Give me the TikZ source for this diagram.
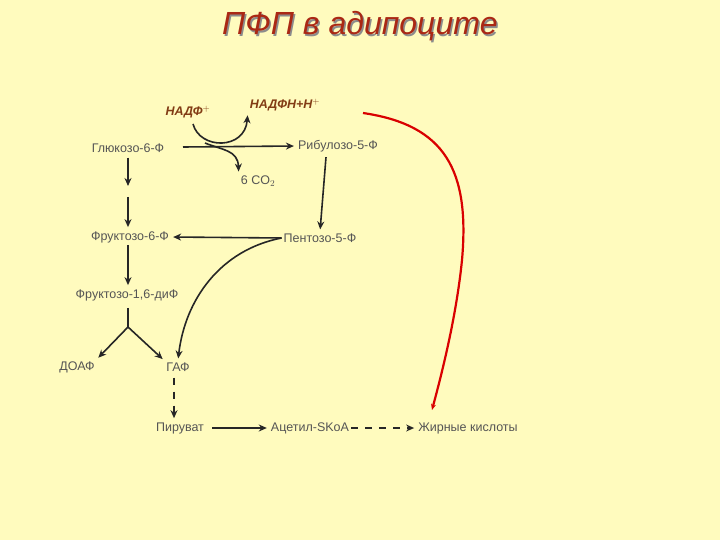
\documentclass[tikz,border=0pt]{standalone}
\usepackage{fontspec}
\setmainfont{Liberation Sans}
\usetikzlibrary{arrows.meta}
\definecolor{bg}{RGB}{255,251,190}
\definecolor{txt}{RGB}{85,85,85}
\definecolor{brn}{RGB}{130,60,20}
\definecolor{ttl}{RGB}{170,40,20}
\begin{document}
\begin{tikzpicture}[x=1pt,y=-1pt,
  lbl/.style={font=\fontsize{12.5}{14}\selectfont,text=txt,inner sep=2pt},
  nad/.style={font=\fontsize{12.5}{14}\selectfont\bfseries\itshape,text=brn,inner sep=2pt},
  arr/.style={-{Stealth[length=8pt,width=7pt]},line width=1.6pt,draw=black!85,shorten >=2pt},
  dsh/.style={arr,dash pattern=on 7pt off 7pt}]
\fill[bg] (0,0) rectangle (720,540);
\useasboundingbox (0,0) rectangle (720,540);
\node[font=\fontsize{32}{36}\selectfont\itshape] (title) at (360,27) {\makebox[0pt][l]{\raisebox{-1.5pt}{\hspace{1.5pt}\color{black!45}ПФП в адипоците}}\color{ttl}ПФП в адипоците};
\node[nad] (nadp) at (188,112) {НАДФ$^{\mathbf{+}}$};
\node[nad] (nadph) at (285,105) {НАДФН+Н$^{\mathbf{+}}$};
\node[lbl] (g6p) at (128,148) {Глюкозо-6-Ф};
\node[lbl] (r5p) at (338,146) {Рибулозо-5-Ф};
\node[lbl] (co2) at (258,181) {6 CO$_2$};
\node[lbl] (f6p) at (130,237) {Фруктозо-6-Ф};
\node[lbl] (p5p) at (320,238) {Пентозо-5-Ф};
\node[lbl] (f16) at (127,295) {Фруктозо-1,6-диФ};
\node[lbl] (doaf) at (77,367) {ДОАФ};
\node[lbl] (gaf) at (178,367) {ГАФ};
\node[lbl] (pyr) at (180,428) {Пируват};
\node[lbl] (acoa) at (310,428) {Ацетил-SKoA};
\node[lbl] (fa) at (468,428) {Жирные кислоты};
\coordinate (ga) at (128,188);
\coordinate (gb) at (128,197);
\coordinate (y) at (128,327);
\coordinate (redend) at (432,410);
\draw[arr] (g6p.south) ++(0,3) -- (ga);
\draw[arr] (gb) -- (f6p.north -| gb);
\draw[arr] (183,147) -- (r5p.west);
\draw[arr] (193,124) .. controls (200,150) and (245,150) .. (nadph.south west);
\draw[arr] (205,143) .. controls (222,150) and (238,150) .. (co2.north west);
\draw[arr] (r5p.south) ++(-12,3) -- (p5p.north);
\draw[arr] (p5p.west) -- (f6p.east);
\draw[arr] (p5p.west) .. controls (220,250) and (185,300) .. (gaf.north);
\draw[arr] (f6p.south -| y) -- (f16.north -| y);
\draw[line width=1.6pt,draw=black!85] (f16.south -| y) ++(0,5) -- (y);
\draw[arr] (y) -- (doaf.north east);
\draw[arr] (y) -- (gaf.north west);
\draw[dsh] (gaf.south) ++(-4,4) -- (pyr.north -| 174,0);
\draw[arr] (pyr.east) ++(6,0) -- (acoa.west);
\draw[dsh] (acoa.east) -- (fa.west);
\draw[-{Stealth[length=6pt,width=5pt]},line width=2.2pt,draw=red!85!black] (363,113) .. controls (445,125) and (470,170) .. (462,260) .. controls (456,320) and (440,380) .. (redend);
\end{tikzpicture}
\end{document}
